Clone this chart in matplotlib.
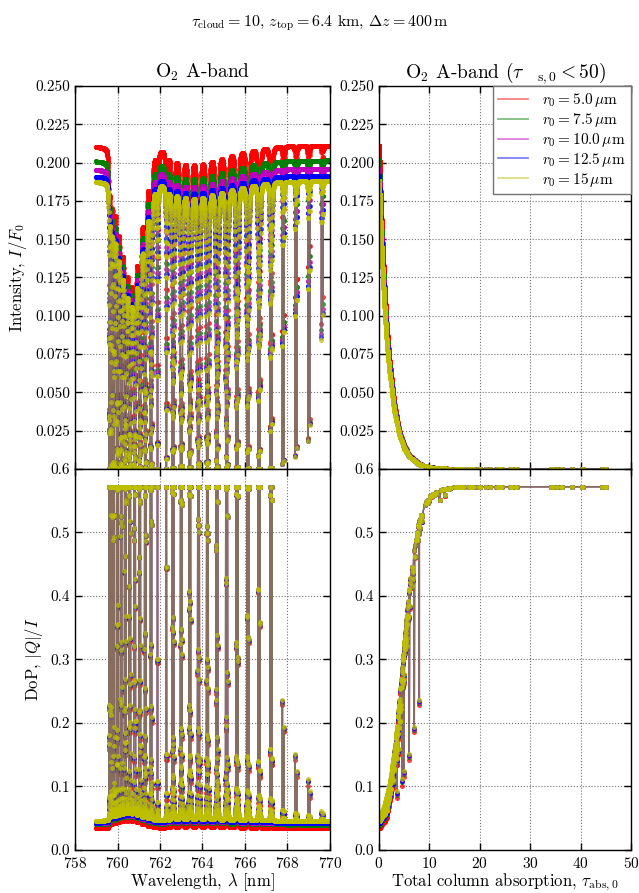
import numpy as np
import matplotlib
matplotlib.use("Agg")
import matplotlib.pyplot as plt
from matplotlib.lines import Line2D
from matplotlib.colors import to_rgb

plt.rcParams.update({
    "font.family": "serif",
    "font.serif": ["cmr10"],
    "mathtext.fontset": "cm",
    "axes.unicode_minus": False,
    "axes.formatter.use_mathtext": True,
    "xtick.direction": "in",
    "ytick.direction": "in",
    "xtick.top": True,
    "ytick.right": True,
    "xtick.major.size": 5,
    "ytick.major.size": 5,
    "xtick.major.pad": 4.5,
    "xtick.labelsize": 11,
    "ytick.labelsize": 11,
    "axes.linewidth": 1.0,
})

# effective droplet radii [micron] and plotting colours
radius_labels = ["5.0", "7.5", "10.0", "12.5", "15"]
series_colors = ["r", "g", "m", "b", "y"]

# out-of-band reflectance I/F0 and degree of polarisation for each radius
cont_intensity = [0.211, 0.2015, 0.196, 0.1915, 0.188]
cont_dop = [0.034, 0.040, 0.042, 0.043, 0.046]
dop_max = 0.572

# O2 A-band lines: centre [nm], peak optical depth, weight in the polarisation response
line_centre = [
    759.60, 759.62, 759.69, 759.72, 759.81, 759.85, 759.97, 760.01, 760.15, 760.19,
    760.34, 760.39, 760.55, 760.60, 760.78, 760.83, 761.02, 761.07, 761.28, 761.33,
    761.55, 761.60, 761.88,
    762.30, 762.58, 762.64, 762.97, 763.03, 763.37, 763.43, 763.78, 763.84, 764.20,
    764.26, 764.64, 764.71, 765.10, 765.17, 765.58, 765.66, 766.09, 766.17, 766.62,
    766.70, 767.18, 767.26, 767.76, 767.84, 768.36, 768.44, 768.96, 769.04, 769.60,
    769.68,
]
line_peak_tau = [
    15, 18, 35, 40, 70, 80, 120, 130, 180, 190,
    220, 230, 250, 260, 250, 260, 220, 230, 170, 180,
    120, 130, 80,
    110, 190, 180, 240, 230, 270, 260, 280, 270, 270,
    260, 250, 240, 220, 210, 180, 170, 140, 130, 100,
    90, 65, 60, 8, 7, 6, 5, 4.5, 3.6, 1.5,
    1.2,
]
line_pol_weight = [1.0] * 23 + [1.0] * 21 + [0.8] * 2 + [0.5] * 8
line_hwhm = 0.002  # nm

# smooth absorption under the crowded R branch
bg_wl = [759.0, 759.5, 759.6, 759.9, 760.1, 760.3, 760.5, 760.7, 761.0, 761.3,
         761.6, 761.85, 770.0]
bg_tau = [0, 0, 0.05, 0.12, 0.25, 0.38, 0.55, 0.7, 0.5, 0.2, 0.05, 0, 0]
bg_pol_weight = 0.2

# radiative response of the cloud to the column absorption
resp_tau = [0, 0.25, 0.5, 1, 1.5, 2, 3, 4, 5, 6, 8, 10, 12, 15, 20, 30, 1000]
resp_trans = [1, 0.88, 0.77, 0.59, 0.45, 0.35, 0.205, 0.12, 0.072, 0.043,
              0.016, 0.006, 0.0025, 0.0008, 0.0002, 0.00003, 0]
resp_tau_dop = [0, 1, 2, 3, 4, 5, 6, 7, 8, 9, 10, 12, 15, 1000]
resp_dop_rise = [0, 0.04, 0.1, 0.2, 0.36, 0.53, 0.7, 0.82, 0.9, 0.945, 0.97, 0.99, 1, 1]

# axis ticks
wl_ticks = [758, 760, 762, 764, 766, 768, 770]
tau_ticks = [0, 10, 20, 30, 40, 50]
int_ticks = [0.025, 0.05, 0.075, 0.1, 0.125, 0.15, 0.175, 0.2, 0.225, 0.25]
int_ticklabels = ["0.025", "0.050", "0.075", "0.100", "0.125", "0.150", "0.175",
                  "0.200", "0.225", "0.250"]
dop_ticks = [0.0, 0.1, 0.2, 0.3, 0.4, 0.5, 0.6]
dop_ticklabels = ["0.0", "0.1", "0.2", "0.3", "0.4", "0.5", "0.6"]
tau_limit = 50

# spectral grid and column absorption
wl = np.arange(759.0, 770.0 + 1e-9, 0.004)
centres = np.array(line_centre)[:, None]
peaks = np.array(line_peak_tau)[:, None]
weights = np.array(line_pol_weight)[:, None]
profile = 1.0 / (1.0 + ((wl[None, :] - centres) / line_hwhm) ** 2)
background = np.interp(wl, bg_wl, bg_tau)
tau = (peaks * profile).sum(axis=0) + background
tau_pol = (peaks * weights * profile).sum(axis=0) + bg_pol_weight * background
trans = np.interp(tau, resp_tau, resp_trans)
rise = np.interp(tau_pol, resp_tau_dop, resp_dop_rise)

sel = np.where(tau < tau_limit)[0]
order = sel[np.argsort(tau[sel])]

fig = plt.figure(figsize=(6.39, 8.93), dpi=100)
ax_il = fig.add_axes([0.1174, 0.4748, 0.399, 0.4289])
ax_ir = fig.add_axes([0.5931, 0.4748, 0.3944, 0.4289])
ax_pl = fig.add_axes([0.1174, 0.0482, 0.399, 0.4266])
ax_pr = fig.add_axes([0.5931, 0.0482, 0.3944, 0.4266])


def draw(ax, x, y, c):
    rgb = to_rgb(c)
    ax.plot(x, y, color=rgb + (0.5,), lw=1.0, marker="o", ms=3.6, mew=0,
            mfc=rgb + (0.75,))


for c, i0, d0 in zip(series_colors, cont_intensity, cont_dop):
    inten = i0 * trans
    dop = d0 + (dop_max - d0) * rise
    draw(ax_il, wl, inten, c)
    draw(ax_pl, wl, dop, c)
    draw(ax_ir, tau[order], inten[order], c)
    draw(ax_pr, tau[order], dop[order], c)

for ax in (ax_il, ax_pl):
    ax.set_xlim(758, 770)
    ax.set_xticks(wl_ticks)
for ax in (ax_ir, ax_pr):
    ax.set_xlim(0, 50)
    ax.set_xticks(tau_ticks)
for ax in (ax_il, ax_ir):
    ax.set_ylim(0, 0.25)
    ax.set_yticks(int_ticks)
    ax.set_yticklabels(int_ticklabels)
    ax.tick_params(labelbottom=False)
for ax in (ax_pl, ax_pr):
    ax.set_ylim(0, 0.6)
    ax.set_yticks(dop_ticks)
    ax.set_yticklabels(dop_ticklabels)
for ax in (ax_il, ax_ir, ax_pl, ax_pr):
    ax.grid(True, linestyle=":", color="0.45", linewidth=0.8)
    ax.tick_params(which="both", direction="in", top=True, right=True, width=1.0)

ax_il.set_title(r"O$_2$ A-band", fontsize=14)
ax_ir.set_title(r"O$_2$ A-band ($\tau_{\ \ \ \ {\rm s,0}} < 50$)", fontsize=14)
ax_il.set_ylabel(r"Intensity, $I/F_0$", fontsize=12)
ax_pl.set_ylabel(r"DoP, $|Q|/I$", fontsize=12)
ax_pl.set_xlabel(r"Wavelength, $\lambda$ [nm]", fontsize=12, labelpad=0)
ax_pr.set_xlabel(r"Total column absorption, $\tau_{\rm abs,0}$", fontsize=12,
                 labelpad=0)

handles = [Line2D([], [], color=c, lw=1.3, alpha=0.5) for c in series_colors]
labels = [r"$r_0 = %s\,\mu$m" % r for r in radius_labels]
leg = ax_ir.legend(handles, labels, loc="upper right", borderaxespad=0.0,
                   fancybox=False, framealpha=1.0, edgecolor="0.45",
                   fontsize=11, labelspacing=0.12, handlelength=2.0,
                   handletextpad=0.9, borderpad=0.35)
leg.get_frame().set_linewidth(1.0)

fig.suptitle(r"$\tau_{\rm cloud} = 10$, $z_{\rm top} = 6.4$ km, $\Delta z = 400\,{\rm m}$",
             fontsize=11.5, y=0.985)

fig.savefig("out.png", dpi=100)
